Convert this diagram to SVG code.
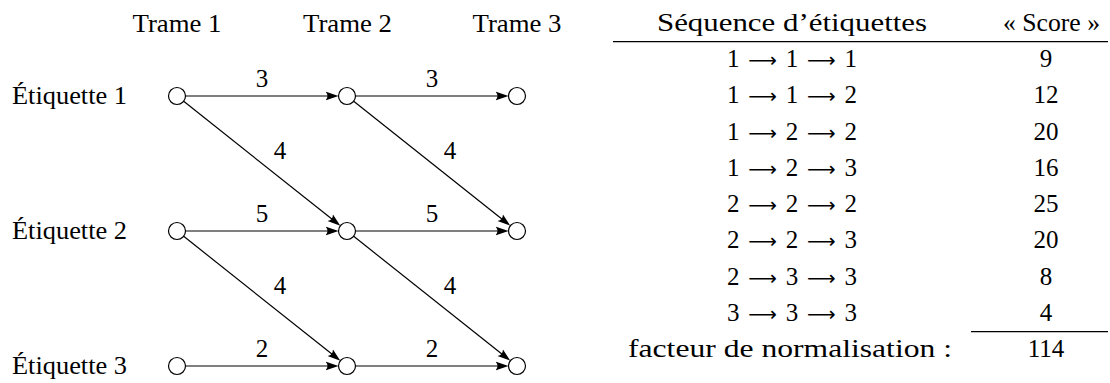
<svg xmlns="http://www.w3.org/2000/svg" width="1110" height="383" viewBox="0 0 1110 383">
<style>
.t{font-family:'Liberation Serif',serif;font-size:25px;fill:#000}
.m{text-anchor:middle}
.ar{font-family:'DejaVu Sans',sans-serif;font-size:20px}
.node{fill:#fff;stroke:#000;stroke-width:1.2}
.edge{stroke:#000;stroke-width:1.2;fill:none;marker-end:url(#ah)}
.rule{stroke:#000;stroke-width:1.3}
</style>
<defs>
<marker id="ah" markerUnits="userSpaceOnUse" viewBox="0 -5 14 10" refX="3" refY="0" markerWidth="14" markerHeight="10" orient="auto">
<path d="M0,-4.3 Q4,0 0,4.3 L13,0 Z" fill="#000"/>
</marker>
</defs>
<g id="headers" class="t">
<text class="m" x="177" y="32" textLength="89" lengthAdjust="spacingAndGlyphs">Trame 1</text>
<text class="m" x="347.5" y="32" textLength="89" lengthAdjust="spacingAndGlyphs">Trame 2</text>
<text class="m" x="517" y="32" textLength="89" lengthAdjust="spacingAndGlyphs">Trame 3</text>
<text x="12" y="104" textLength="115" lengthAdjust="spacingAndGlyphs">Étiquette 1</text>
<text x="12" y="239" textLength="115" lengthAdjust="spacingAndGlyphs">Étiquette 2</text>
<text x="12" y="374" textLength="115" lengthAdjust="spacingAndGlyphs">Étiquette 3</text>
</g>
<g id="connectors">
<line class="edge" x1="185.5" y1="96" x2="328.5" y2="96"/>
<line class="edge" x1="355.5" y1="96" x2="498.5" y2="96"/>
<line class="edge" x1="185.5" y1="231" x2="328.5" y2="231"/>
<line class="edge" x1="355.5" y1="231" x2="498.5" y2="231"/>
<line class="edge" x1="185.5" y1="366" x2="328.5" y2="366"/>
<line class="edge" x1="355.5" y1="366" x2="498.5" y2="366"/>
<line class="edge" x1="183.7" y1="101.3" x2="332.5" y2="219.5"/>
<line class="edge" x1="353.7" y1="101.3" x2="502.5" y2="219.5"/>
<line class="edge" x1="183.7" y1="236.3" x2="332.5" y2="354.5"/>
<line class="edge" x1="353.7" y1="236.3" x2="502.5" y2="354.5"/>
<g class="t">
<text class="m" x="262" y="87">3</text>
<text class="m" x="432" y="87">3</text>
<text class="m" x="262" y="222">5</text>
<text class="m" x="432" y="222">5</text>
<text class="m" x="262" y="357">2</text>
<text class="m" x="432" y="357">2</text>
<text class="m" x="280" y="159">4</text>
<text class="m" x="450" y="159">4</text>
<text class="m" x="280" y="294">4</text>
<text class="m" x="450" y="294">4</text>
</g>
</g>
<g id="n11"><circle class="node" cx="177" cy="96" r="8.5"/></g>
<g id="n21"><circle class="node" cx="347" cy="96" r="8.5"/></g>
<g id="n31"><circle class="node" cx="517" cy="96" r="8.5"/></g>
<g id="n12"><circle class="node" cx="177" cy="231" r="8.5"/></g>
<g id="n22"><circle class="node" cx="347" cy="231" r="8.5"/></g>
<g id="n32"><circle class="node" cx="517" cy="231" r="8.5"/></g>
<g id="n13"><circle class="node" cx="177" cy="366" r="8.5"/></g>
<g id="n23"><circle class="node" cx="347" cy="366" r="8.5"/></g>
<g id="n33"><circle class="node" cx="517" cy="366" r="8.5"/></g>
<g id="table" class="t">
<text class="m" x="792" y="31" textLength="270" lengthAdjust="spacingAndGlyphs">Séquence d’étiquettes</text>
<text class="m" x="1051.5" y="31" textLength="97" lengthAdjust="spacingAndGlyphs">« Score »</text>
<line class="rule" x1="613" y1="41.7" x2="1108" y2="41.7"/>
<text class="m" x="792" y="67" textLength="130">1 <tspan class="ar">⟶</tspan> 1 <tspan class="ar">⟶</tspan> 1</text>
<text class="m" x="792" y="103.3" textLength="130">1 <tspan class="ar">⟶</tspan> 1 <tspan class="ar">⟶</tspan> 2</text>
<text class="m" x="792" y="139.6" textLength="130">1 <tspan class="ar">⟶</tspan> 2 <tspan class="ar">⟶</tspan> 2</text>
<text class="m" x="792" y="175.8" textLength="130">1 <tspan class="ar">⟶</tspan> 2 <tspan class="ar">⟶</tspan> 3</text>
<text class="m" x="792" y="212" textLength="130">2 <tspan class="ar">⟶</tspan> 2 <tspan class="ar">⟶</tspan> 2</text>
<text class="m" x="792" y="248.3" textLength="130">2 <tspan class="ar">⟶</tspan> 2 <tspan class="ar">⟶</tspan> 3</text>
<text class="m" x="792" y="284.6" textLength="130">2 <tspan class="ar">⟶</tspan> 3 <tspan class="ar">⟶</tspan> 3</text>
<text class="m" x="792" y="320.8" textLength="130">3 <tspan class="ar">⟶</tspan> 3 <tspan class="ar">⟶</tspan> 3</text>
<text class="m" x="1046" y="67">9</text>
<text class="m" x="1046" y="103.3">12</text>
<text class="m" x="1046" y="139.6">20</text>
<text class="m" x="1046" y="175.8">16</text>
<text class="m" x="1046" y="212">25</text>
<text class="m" x="1046" y="248.3">20</text>
<text class="m" x="1046" y="284.6">8</text>
<text class="m" x="1046" y="320.8">4</text>
<line class="rule" x1="971" y1="331.7" x2="1108" y2="331.7"/>
<text x="628" y="357" textLength="324" lengthAdjust="spacingAndGlyphs">facteur de normalisation :</text>
<text class="m" x="1046" y="357">114</text>
</g>
</svg>
